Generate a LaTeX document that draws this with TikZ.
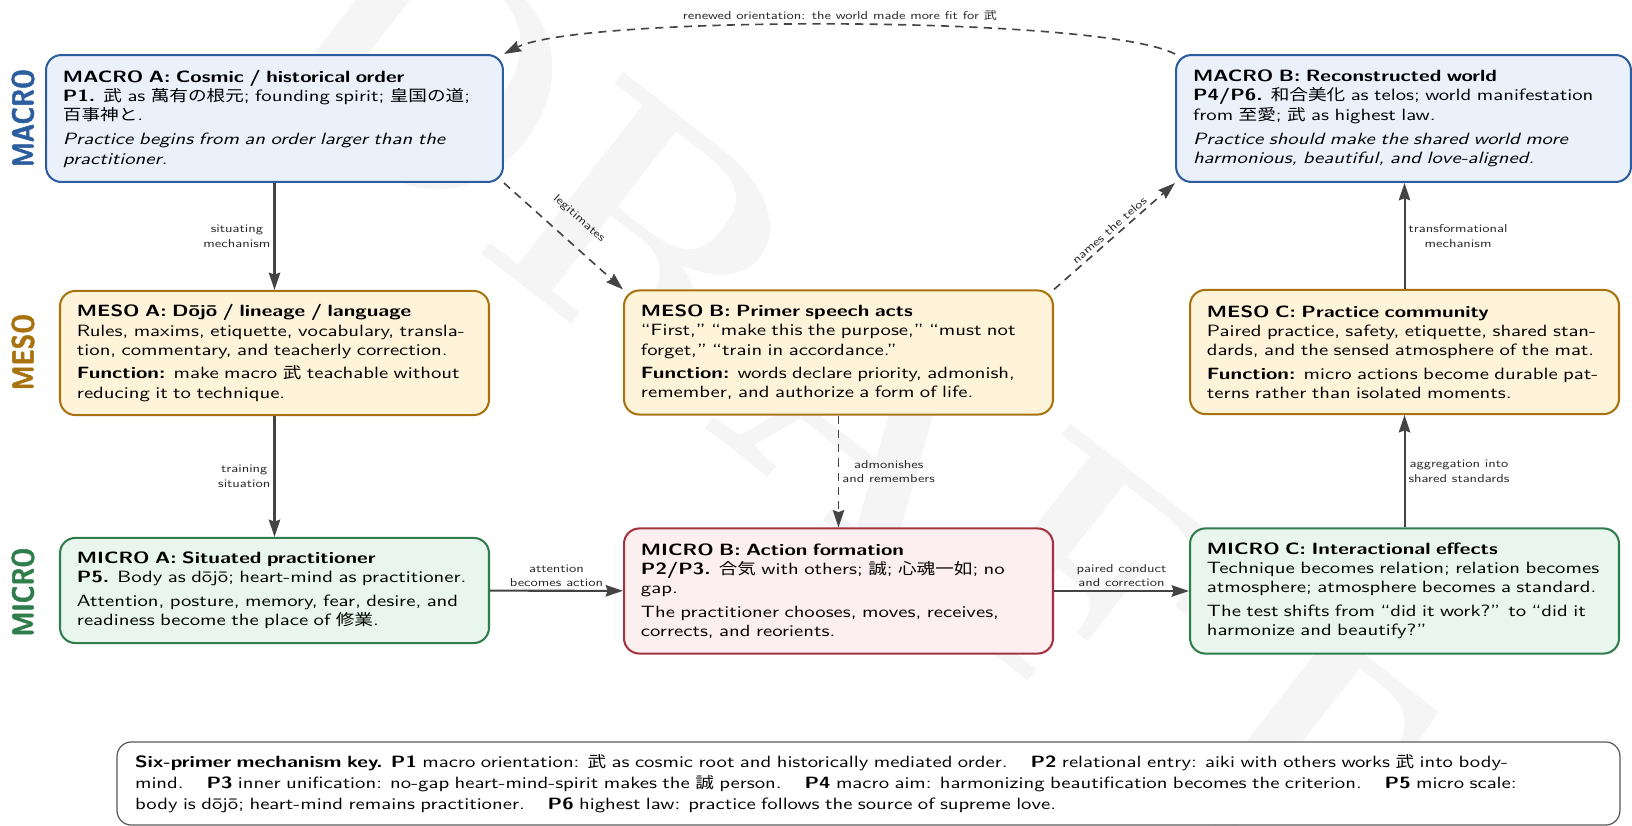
\documentclass[tikz,border=0pt]{standalone}
\usepackage{fontspec}
\setsansfont{lmsans10}[Extension=.otf, UprightFont=*-regular, BoldFont=*-bold, ItalicFont=*-oblique, BoldItalicFont=*-boldoblique, FakeStretch=1.27]
\newfontfamily\cjk{Noto Sans CJK JP}[Scale=0.95, FakeStretch=1.2]
\newfontfamily\sidefont{lmsans10}[Extension=.otf, UprightFont=*-bold, FakeStretch=0.82, FakeBold=1.6]
\usetikzlibrary{arrows.meta}

\newcommand{\kanji}[1]{{\cjk #1}}
\setlength{\lineskiplimit}{-4pt}

\definecolor{macroline}{HTML}{2C5D9E}
\definecolor{macrofill}{HTML}{EAF1FB}
\definecolor{mesoline}{HTML}{A8730F}
\definecolor{mesofill}{HTML}{FFF4D9}
\definecolor{microline}{HTML}{2F7D4B}
\definecolor{microfill}{HTML}{E8F6EE}
\definecolor{actline}{HTML}{A5333F}
\definecolor{actfill}{HTML}{FDEFF0}
\definecolor{flowgray}{HTML}{444444}

\tikzset{
	card/.style={draw, line width=1pt, rounded corners=7.5pt, align=left, inner xsep=8.3pt, inner ysep=0pt,
		text width=#1, font=\sffamily\fontsize{8}{9.4}\selectfont},
	macrocard/.style={card=#1, draw=macroline, fill=macrofill, minimum height=62.2pt},
	mesocard/.style={card=#1, draw=mesoline, fill=mesofill, minimum height=60.8pt},
	microcard/.style={card=#1, draw=microline, fill=microfill, minimum height=61.3pt},
	actcard/.style={card=#1, draw=actline, fill=actfill, minimum height=61.3pt},
	keycard/.style={card=718.8pt, draw=black!65, line width=0.6pt, fill=white, rounded corners=7pt,
		inner xsep=8.8pt, minimum height=40.7pt, font=\sffamily\fontsize{8}{10.2}\selectfont},
	side/.style={font=\sidefont\fontsize{15.1}{16}\selectfont, inner sep=0pt, rotate=90},
	lab/.style={font=\sffamily\fontsize{5.6}{7.1}\selectfont, align=center, inner sep=1.5pt, text=black!85},
	flow/.style={draw=flowgray, line width=1pt, -{Stealth[length=8.5pt, width=5.6pt, inset=1pt]}},
	dflow/.style={flow, line width=0.8pt, dash pattern=on 4pt off 3pt}
}

\begin{document}
\begin{tikzpicture}[x=0.49pt, y=-0.49pt]
	\useasboundingbox (0,0) rectangle (1632,826);
	% faint watermark
	\node[rotate=-38, text=black!4, font=\rmfamily\bfseries\fontsize{165}{165}\selectfont] (wm) at (850,395) {DRAFT};

	% level labels
	\node[side, text=macroline] (lvlMacro) at (23,118) {MACRO};
	\node[side, text=mesoline] (lvlMeso) at (23,352) {MESO};
	\node[side, text=microline] (lvlMicro) at (23,592) {MICRO};

	% macro row
	\node[macrocard=207.3pt] (macroA) at (274.5,118.5) {\textbf{MACRO A: Cosmic / historical order}\\
		\textbf{P1.} \kanji{武} as \kanji{萬有の根元}; founding spirit; \kanji{皇国の道};\\
		\kanji{百事神と}.\\[2.6pt]
		{\itshape Practice begins from an order larger than the\\ practitioner.}};
	\node[macrocard=206.3pt] (macroB) at (1403.5,118.5) {\textbf{MACRO B: Reconstructed world}\\
		\textbf{P4/P6.} \kanji{和合美化} as telos; world manifestation\\
		from \kanji{至愛}; \kanji{武} as highest law.\\[2.6pt]
		{\itshape Practice should make the shared world more\\ harmonious, beautiful, and love-aligned.}};

	% meso row
	\node[mesocard=193.6pt] (mesoA) at (274.5,353) {\textbf{MESO A: Dōjō / lineage / language}\\
		Rules, maxims, etiquette, vocabulary, transla-\\
		tion, commentary, and teacherly correction.\\[2.2pt]
		\textbf{Function:} make macro \kanji{武} teachable without\\
		reducing it to technique.};
	\node[mesocard=193.6pt] (mesoB) at (838.5,352.5) {\textbf{MESO B: Primer speech acts}\\
		“First,” “make this the purpose,” “must not\\
		forget,” “train in accordance.”\\[2.2pt]
		\textbf{Function:} words declare priority, admonish,\\
		remember, and authorize a form of life.};
	\node[mesocard=193.6pt] (mesoC) at (1404.5,352) {\textbf{MESO C: Practice community}\\
		Paired practice, safety, etiquette, shared stan-\\
		dards, and the sensed atmosphere of the mat.\\[2.2pt]
		\textbf{Function:} micro actions become durable pat-\\
		terns rather than isolated moments.};

	% micro row
	\node[microcard=193.6pt, minimum height=51.5pt] (microA) at (274.5,590.5) {\textbf{MICRO A: Situated practitioner}\\
		\textbf{P5.} Body as dōjō; heart-mind as practitioner.\\[2.2pt]
		Attention, posture, memory, fear, desire, and\\
		readiness become the place of \kanji{修業}.};
	\node[actcard=193.6pt] (microB) at (838.5,591) {\textbf{MICRO B: Action formation}\\
		\textbf{P2/P3.} \kanji{合気} with others; \kanji{誠}; \kanji{心魂一如}; no\\
		gap.\\[2.2pt]
		The practitioner chooses, moves, receives,\\
		corrects, and reorients.};
	\node[microcard=193.6pt] (microC) at (1404.5,591) {\textbf{MICRO C: Interactional effects}\\
		Technique becomes relation; relation becomes\\
		atmosphere; atmosphere becomes a standard.\\[2.2pt]
		The test shifts from “did it work?” to “did it\\
		harmonize and beautify?”};

	% key
	\node[keycard] (key) at (868.5,783.5) {\textbf{Six-primer mechanism key.} \textbf{P1} macro orientation: \kanji{武} as cosmic root and historically mediated order.\hspace{1.4em}\textbf{P2} relational entry: aiki with others works \kanji{武} into body-\\
		mind.\hspace{1.4em}\textbf{P3} inner unification: no-gap heart-mind-spirit makes the \kanji{誠} person.\hspace{1.4em}\textbf{P4} macro aim: harmonizing beautification becomes the criterion.\hspace{1.4em}\textbf{P5} micro scale:\\
		body is dōjō; heart-mind remains practitioner.\hspace{1.4em}\textbf{P6} highest law: practice follows the source of supreme love.};

	% connectors
	\draw[flow] (macroA) -- node[lab, left] {situating\\mechanism} (mesoA);
	\draw[flow] (mesoA) -- node[lab, left] {training\\situation} (microA);
	\draw[flow] (microA) -- node[lab, above] {attention\\becomes action} (microB);
	\draw[flow] (microB) -- node[lab, above] {paired conduct\\and correction} (microC);
	\draw[flow] (microC) -- node[lab, right] {aggregation into\\shared standards} (mesoC);
	\draw[flow] (mesoC.north) -- node[lab, right] {transformational\\mechanism} (mesoC.north |- macroB.south);
	\draw[dflow] (mesoB) -- node[lab, right] {admonishes\\and remembers} (microB);
	\draw[dflow] (macroA.south east) -- node[lab, sloped, above=7pt] {legitimates} (mesoB.north west);
	\draw[dflow] (mesoB.north east) -- node[lab, sloped, above] {names the telos} (macroB.south west);
	\draw[dflow] (macroB.north west) .. controls (1100,15) and (580,15) .. node[lab, above] {renewed orientation: the world made more fit for \kanji{武}} (macroA.north east);
\end{tikzpicture}
\end{document}
